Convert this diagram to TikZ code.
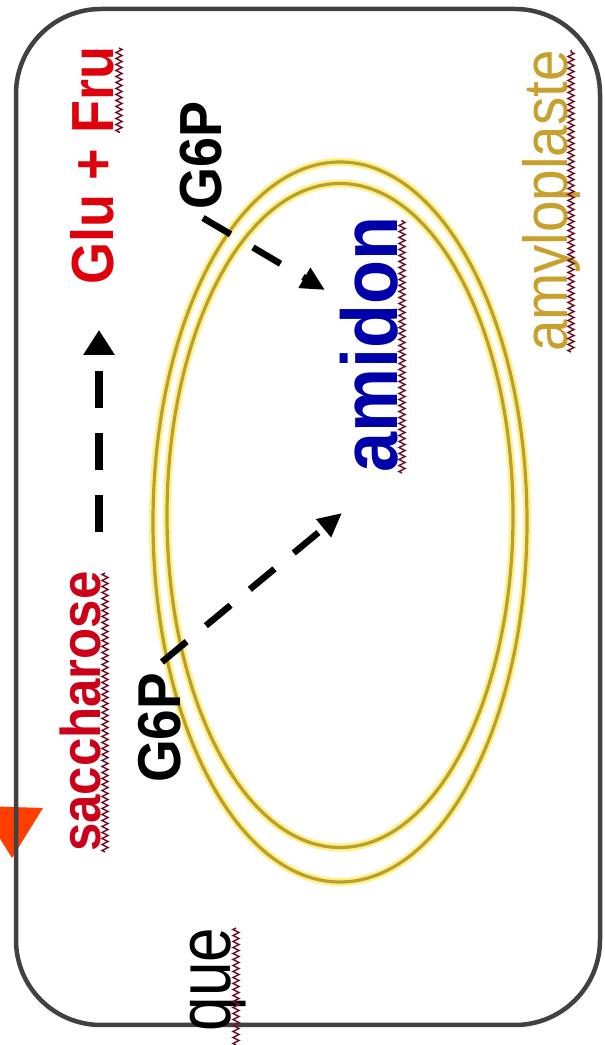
\documentclass[tikz,border=0pt]{standalone}
\usepackage{fontspec}
\setmainfont{Liberation Sans}
\usetikzlibrary{arrows.meta,decorations.pathmorphing}
\definecolor{borderc}{RGB}{65,65,65}
\definecolor{redA}{RGB}{222,0,10}
\definecolor{redB}{RGB}{205,0,25}
\definecolor{blueA}{RGB}{0,0,170}
\definecolor{goldA}{RGB}{200,160,45}
\definecolor{oliveA}{RGB}{185,160,45}
\definecolor{haloA}{RGB}{255,240,140}
\definecolor{triA}{RGB}{255,62,0}
\definecolor{sqc}{RGB}{110,20,40}
\tikzset{
  lbl/.style={rotate=90, yscale=1.1, inner sep=0pt, outer sep=0pt},
  sq/.style={draw=sqc, line width=1.5pt, decorate, decoration={zigzag, amplitude=3pt, segment length=6pt}},
  darrow/.style={line width=6.5pt, dash pattern=on 32pt off 26pt, -{Triangle[length=24pt,width=22pt]}},
  halo/.style={draw=haloA, line width=8pt},
  memb/.style={draw=oliveA, line width=3.2pt}
}
\begin{document}
\begin{tikzpicture}[x=1pt,y=1pt]
\useasboundingbox (0,0) rectangle (605,1045);
\fill[white] (0,0) rectangle (605,1045);
% partial orange arrowhead at left edge
\begin{scope}
\clip (0,0) rectangle (605,1045);
\fill[triA] (-20,239) -- (43,237) -- (12,187) -- cycle;
\end{scope}
% cell border
\draw[borderc, line width=4.5pt, rounded corners=85pt] (16,20) rectangle (600,1036);
% amyloplast membranes
\draw[halo] (340,523) ellipse [x radius=187, y radius=360];
\draw[halo] (340,529.5) ellipse [x radius=173, y radius=332];
\draw[memb] (340,523) ellipse [x radius=187, y radius=360];
\draw[memb] (340,529.5) ellipse [x radius=173, y radius=332];
% labels
\node[lbl, anchor=base west, text=redA, font=\fontsize{54}{60}\selectfont\bfseries] (glufru) at (113,760) {Glu + Fru};
\node[lbl, anchor=base west, text=redB, font=\fontsize{51}{58}\selectfont\bfseries] (sacch) at (100,193) {saccharose};
\node[lbl, anchor=base west, text=black, font=\fontsize{54}{60}\selectfont\bfseries] (g6pa) at (221,835) {G6P};
\node[lbl, anchor=base west, text=black, font=\fontsize{55}{60}\selectfont\bfseries] (g6pb) at (180,262) {G6P};
\node[lbl, anchor=base west, text=blueA, font=\fontsize{72}{80}\selectfont\bfseries] (amidon) at (397,572) {amidon};
\node[lbl, anchor=base west, text=goldA, font=\fontsize{56.6}{62}\selectfont] (amylo) at (567,693) {amyloplaste};
\node[lbl, anchor=base east, text=black, font=\fontsize{62}{68}\selectfont, yscale=1.1] (que) at (230,117) {que};
% spell-check squiggles
\draw[sq] (119,997) -- (119,912);
\draw[sq] (105,193) -- (105,472);
\draw[sq] (402,572) -- (402,825);
\draw[sq] (571,693) -- (571,995);
\draw[sq] (236,0) -- (236,117);
% connectors
\coordinate (v1) at (99,513);
\coordinate (v2) at (99,715);
\coordinate (d1) at (203,827);
\coordinate (d2) at (325,755);
\coordinate (e1) at (162,383);
\coordinate (e2) at (342,532);
\draw[line width=8pt, dash pattern=on 37pt off 25pt, -{Triangle[length=25pt,width=30pt]}] (v1) -- (v2);
\draw[darrow] (d1) -- (d2);
\draw[darrow, dash pattern=on 32pt off 25pt] (e1) -- (e2);
\end{tikzpicture}
\end{document}
